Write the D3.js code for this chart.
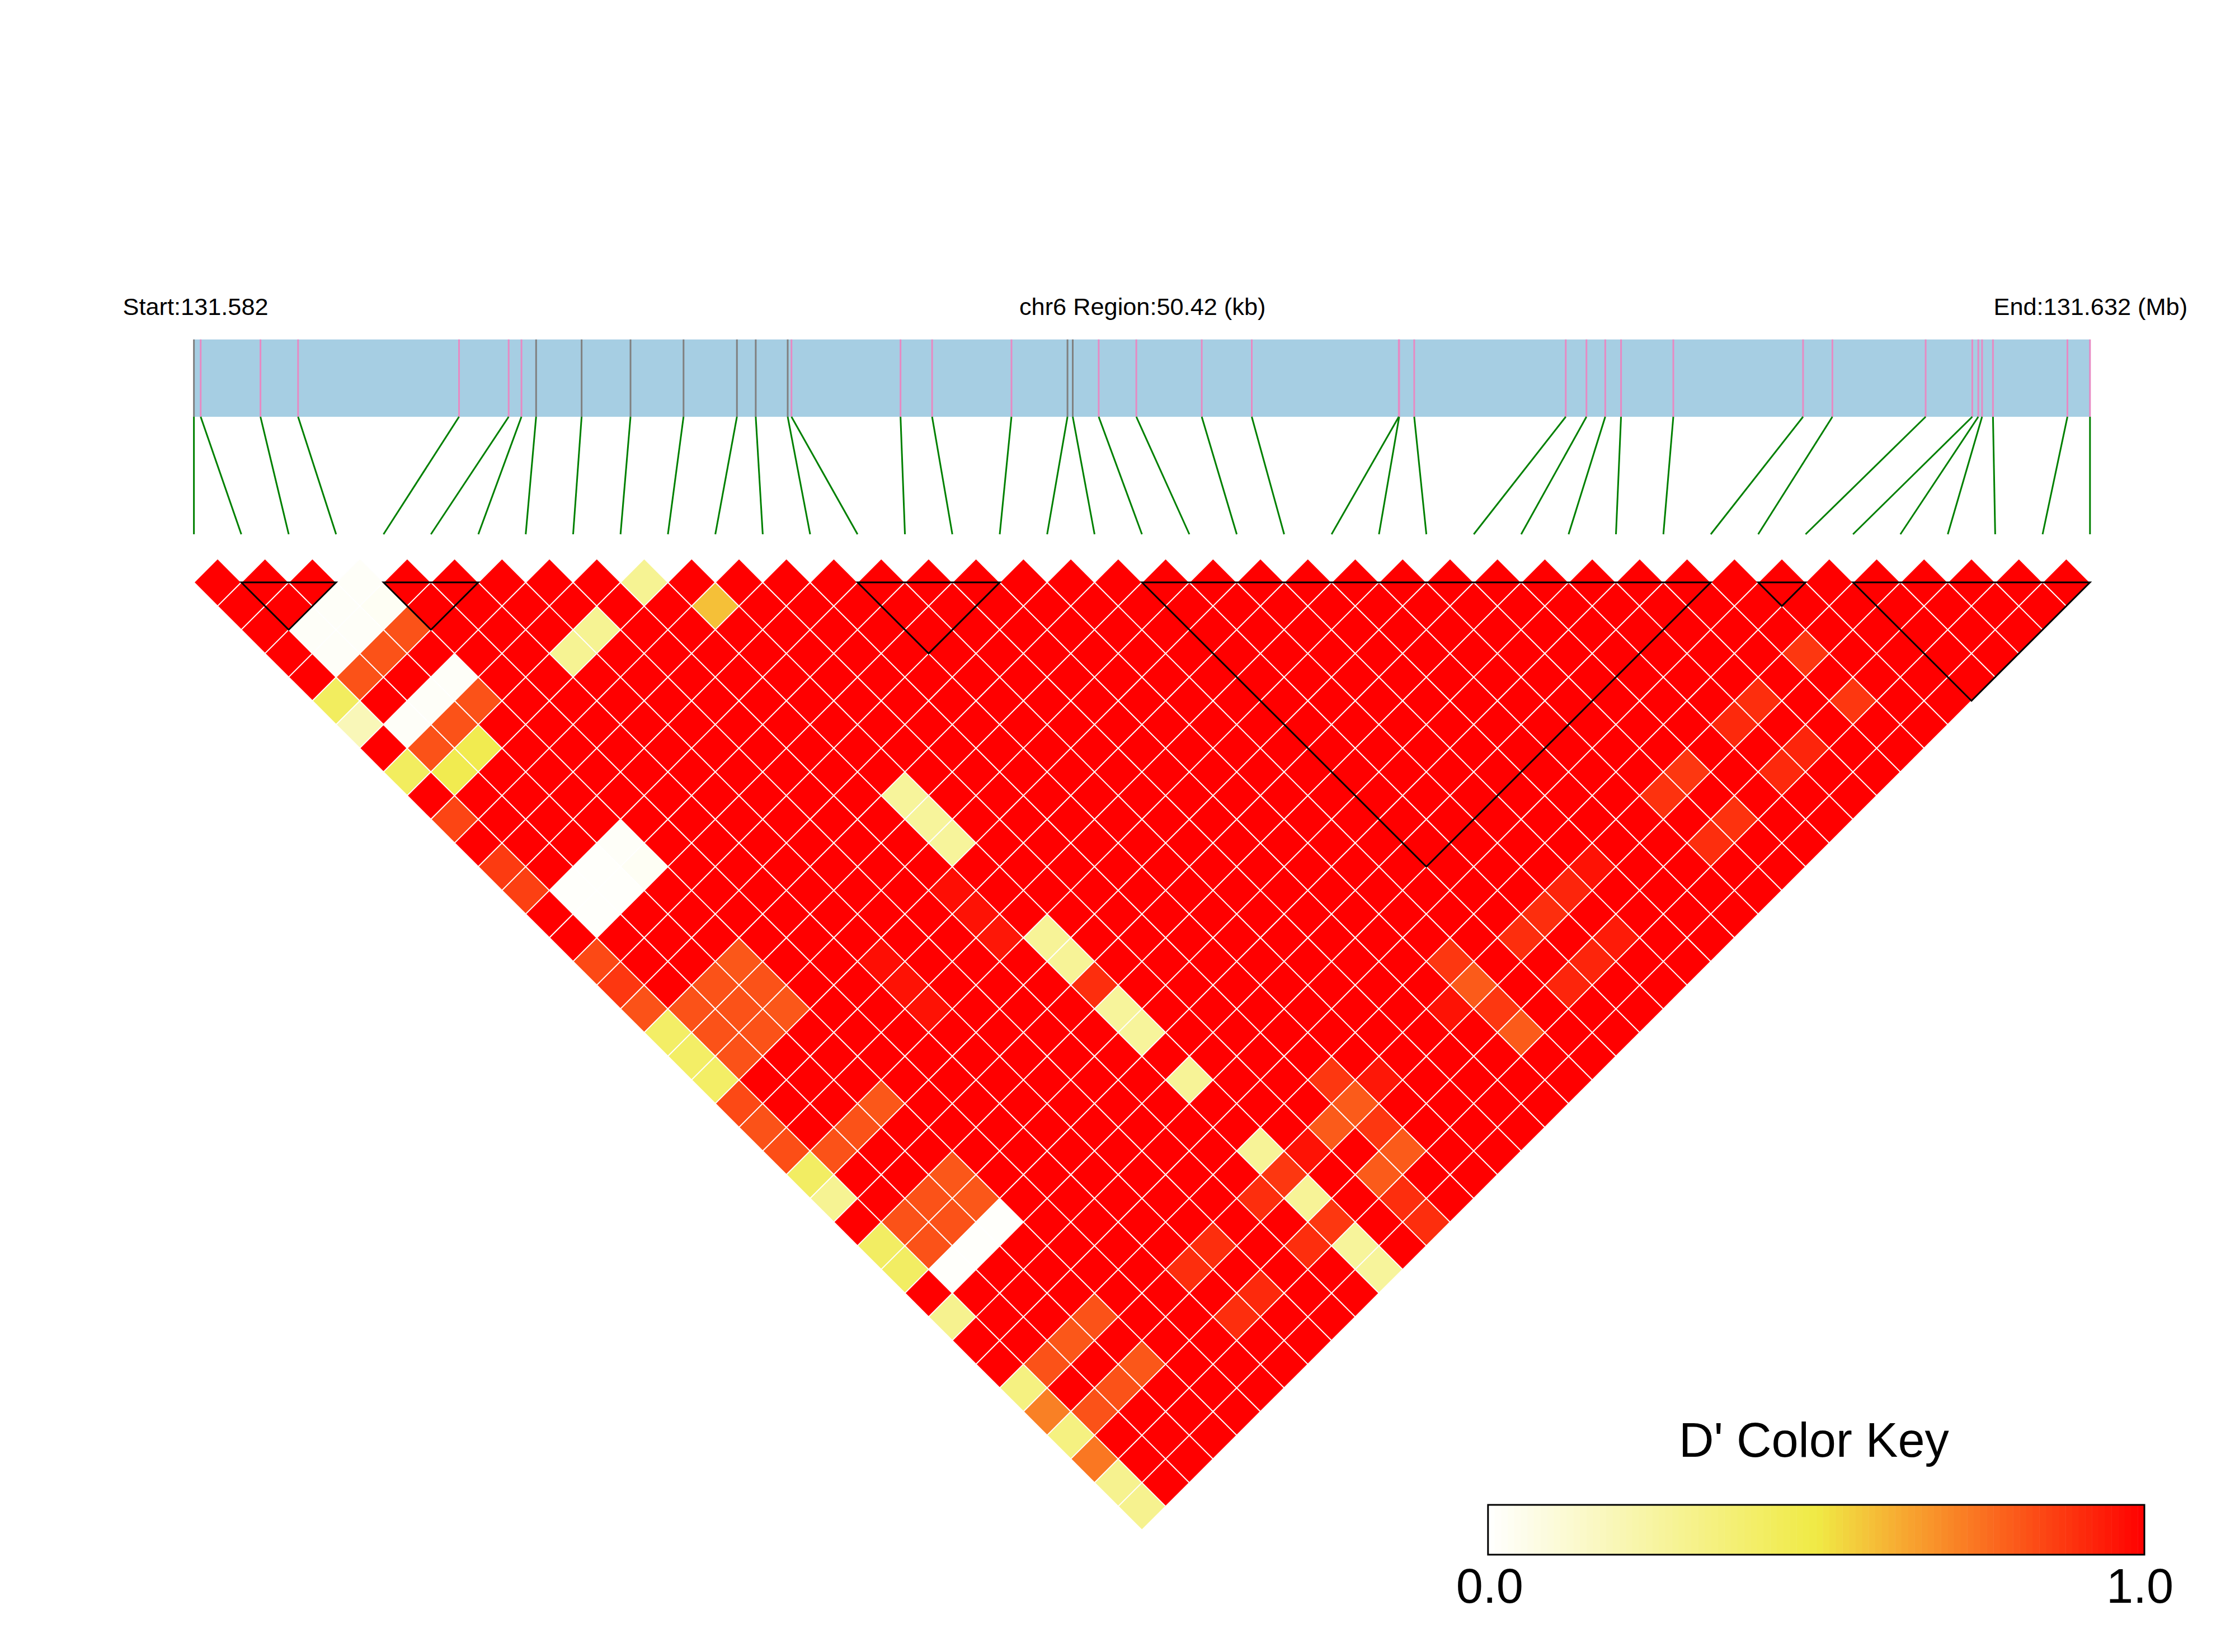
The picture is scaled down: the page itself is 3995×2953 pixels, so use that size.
<!DOCTYPE html>
<html><head><meta charset="utf-8">
<script src="https://cdn.jsdelivr.net/npm/d3@7/dist/d3.min.js"></script>
<style>html,body{margin:0;padding:0;background:#fff}svg{display:block}text{font-family:"Liberation Sans",Arial,sans-serif;fill:#000}</style>
</head><body><div id="chart"></div>
<script>
// SNP positions in kb from the region start
const snpKb = [0,0.18,1.77,2.77,7.05,8.37,8.71,9.10,10.31,11.61,13.02,14.44,14.94,15.79,15.89,18.79,19.63,21.74,23.23,23.37,24.06,25.06,26.80,28.13,32.04,32.05,32.45,36.48,37.03,37.53,37.95,39.34,42.79,43.57,46.05,47.29,47.45,47.55,47.84,49.82,50.42];
// 1 = tick drawn in grey, 0 = tick drawn in pink
const snpGrey = [1,0,0,0,0,0,0,1,1,1,1,1,1,1,0,0,0,0,1,1,0,0,0,0,0,0,0,0,0,0,0,0,0,0,0,0,0,0,0,0,0];
// D' of every pair is 1.0 apart from these [i, j, D']
const lowPairs = [
[3,4,.02],[2,4,.02],[3,5,.03],[1,4,.02],[2,5,.02],[1,5,.02],
[3,6,.82],[2,6,.82],[1,6,.82],[0,6,.43],[0,7,.19],
[3,8,.02],[2,8,.02],[1,8,.02],[3,9,.82],[2,9,.82],[1,9,.82],[0,9,.43],
[2,10,.47],[1,10,.47],[7,10,.29],[6,10,.29],[9,10,.29],[10,12,.585],
[0,11,.85],[0,13,.87],[0,14,.86],
[3,15,.02],[2,15,.01],[1,15,.01],[3,16,.03],[2,16,.01],[1,16,.01],
[0,17,.84],[0,18,.88],[0,19,.82],[0,20,.41],[0,21,.41],[0,22,.41],[0,23,.84],[0,24,.82],[0,25,.83],
[0,26,.42],[0,27,.29],[0,29,.42],[0,30,.42],[0,32,.3],[0,35,.34],[0,36,.72],[0,37,.34],[0,38,.74],[0,39,.3],[0,40,.3],
[3,20,.81],[2,20,.82],[3,21,.82],[1,20,.82],[2,21,.82],[3,22,.81],[1,21,.82],[2,22,.82],[1,22,.82],
[3,26,.81],[2,26,.82],[1,26,.82],
[3,29,.81],[2,29,.82],[3,30,.81],[1,29,.82],[2,30,.82],[1,30,.82],[3,31,.01],[2,31,.01],[1,31,.01],
[3,35,.82],[2,35,.81],[1,35,.82],[3,37,.81],[2,37,.82],[1,37,.82],
[10,20,.27],[10,21,.27],[10,22,.27],[10,26,.28],[10,27,.28],[10,28,.9],[10,29,.27],[10,30,.27],[10,32,.28],[10,35,.28],[10,36,.88],[10,37,.28],[10,38,.88],[10,39,.27],[10,40,.27],
[9,23,.97],[9,24,.96],[9,25,.95],[6,23,.97],[6,24,.96],[6,25,.96],
[9,36,.9],[7,36,.9],[6,36,.9],[7,38,.91],[6,38,.9],[9,38,.9],[11,36,.96],
[13,35,.88],[13,36,.8],[13,37,.88],[13,38,.8],[12,36,.8],[12,38,.8],[14,36,.95],[12,39,.9],[12,40,.9],
[18,35,.88],[18,36,.8],[18,37,.88],[18,38,.8],[17,36,.96],[20,36,.9],[20,38,.92],
[32,36,.88],[30,36,.9],[29,36,.91],[32,38,.88],[30,38,.92],[29,38,.91],[27,36,.88],[26,36,.89],[27,38,.89],[26,38,.9],
[23,36,.96],[22,36,.92],[21,36,.9],[22,38,.94],[21,38,.92]
];
// Haplotype blocks: first and last SNP index
const blockStart = [1,4,14,20,33,35];
const blockEnd   = [3,6,17,32,34,40];
// Colour key
const keyStops = [0,0.5,0.65,1];
const keyColors = ["#ffffff","#f0ea45","#f8a02e","#ff0000"];
const keySteps = d3.range(100);
const labels = {start:"Start:131.582",mid:"chr6 Region:50.42 (kb)",end:"End:131.632 (Mb)",key:"D' Color Key",lo:"0.0",hi:"1.0"};

const W=3995,H=2953,L=346.6,R=3735.8;
const n=snpKb.length;
const svg=d3.select("#chart").append("svg").attr("width",W).attr("height",H).attr("viewBox",[0,0,W,H]);
svg.append("rect").attr("width",W).attr("height",H).attr("fill","#fff");
const xKb=d3.scaleLinear().domain([0,50.42]).range([L,R]);
const xIdx=d3.scaleLinear().domain([0,n-1]).range([L,R]);
const yRow=d3.scaleLinear().domain([0,n-1]).range([1041,1041+40*42.35]);
const color=d3.scaleLinear().domain(keyStops).range(keyColors).interpolate(d3.interpolateRgb).clamp(true);

// Region bar
const barTop=606.8,barBot=745,connBot=955;
svg.append("rect").attr("x",L).attr("y",barTop).attr("width",R-L).attr("height",barBot-barTop).attr("fill","#a6cee3");
svg.append("g").selectAll("line").data(snpKb).join("line")
 .attr("x1",d=>xKb(d)).attr("x2",d=>xKb(d)).attr("y1",barTop).attr("y2",barBot)
 .attr("stroke",(d,i)=>snpGrey[i]?"#808080":"#e78ac3").attr("stroke-width",3);
svg.append("g").selectAll("line").data(snpKb).join("line")
 .attr("x1",d=>xKb(d)).attr("y1",barBot).attr("x2",(d,i)=>xIdx(i)).attr("y2",connBot)
 .attr("stroke","#008000").attr("stroke-width",3);

// Heat map cells
const low=new Map(lowPairs.map(p=>[p[0]+"-"+p[1],p[2]]));
const cells=[];
for(let i=0;i<n-1;i++)for(let j=i+1;j<n;j++)cells.push({i,j,d:low.has(i+"-"+j)?low.get(i+"-"+j):1});
svg.append("g").selectAll("path").data(cells).join("path")
 .attr("d",c=>{
   const cx=xIdx((c.i+c.j)/2),r=c.j-c.i-1;
   const hw=xIdx(0.5)-xIdx(0);
   return `M${cx-hw},${yRow(r)}L${cx},${yRow(r-1)}L${cx+hw},${yRow(r)}L${cx},${yRow(r+1)}Z`;
 })
 .attr("fill",c=>color(c.d)).attr("stroke","#fff").attr("stroke-width",1.9);

// Blocks
svg.append("g").selectAll("path").data(blockStart.map((s,k)=>[s,blockEnd[k]])).join("path")
 .attr("d",([s,e])=>`M${xIdx(s)},${yRow(0)}L${xIdx(e)},${yRow(0)}L${xIdx((s+e)/2)},${yRow(e-s)}Z`)
 .attr("fill","none").attr("stroke","#000").attr("stroke-width",3).attr("stroke-linejoin","miter");

// Header text
const head=svg.append("g").attr("font-size",43.3);
head.append("text").attr("x",L+3).attr("y",562.5).attr("text-anchor","middle").text(labels.start);
head.append("text").attr("x",(L+R)/2+1).attr("y",562.5).attr("text-anchor","middle").text(labels.mid);
head.append("text").attr("x",R+1).attr("y",562.5).attr("text-anchor","middle").text(labels.end);

// Colour key
const kL=2659.8,kR=3833,kT=2690,kB=2779;
const kx=d3.scaleLinear().domain([0,100]).range([kL,kR]);
svg.append("g").selectAll("rect").data(keySteps).join("rect")
 .attr("x",d=>kx(d)).attr("y",kT).attr("width",d=>kx(d+1)-kx(d)+0.5).attr("height",kB-kT)
 .attr("fill",d=>color((d+0.5)/100));
svg.append("rect").attr("x",kL).attr("y",kT).attr("width",kR-kL).attr("height",kB-kT).attr("fill","none").attr("stroke","#000").attr("stroke-width",3);
const kt=svg.append("g").attr("font-size",86.5).attr("text-anchor","middle");
kt.append("text").attr("x",(kL+kR)/2-4).attr("y",2604).text(labels.key);
kt.append("text").attr("x",kL+3).attr("y",2865).text(labels.lo);
kt.append("text").attr("x",kR-8).attr("y",2865).text(labels.hi);
</script></body></html>
